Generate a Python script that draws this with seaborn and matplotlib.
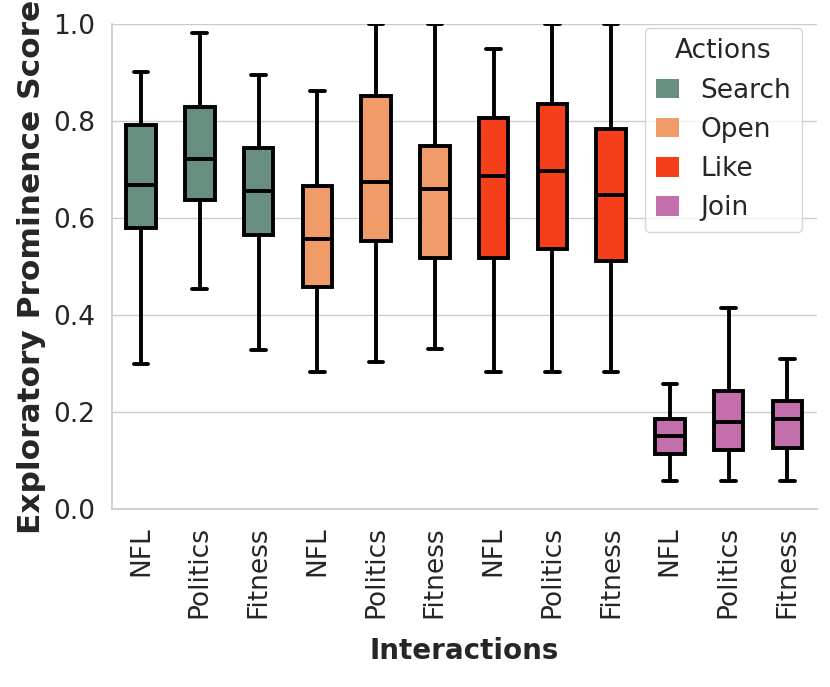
"""Box plot of exploratory prominence scores per action and topic."""
import numpy as np
import pandas as pd
import seaborn as sns
import matplotlib.pyplot as plt

actions = ["Search", "Open", "Like", "Join"]
topics = ["NFL", "Politics", "Fitness"]
palette = ["#678E7E", "#EF9C69", "#F43F1A", "#C36FAC"]

# five-number summaries: min, q1, median, q3, max
search_stats = [
    [0.299, 0.579, 0.669, 0.792, 0.902],
    [0.454, 0.638, 0.722, 0.829, 0.981],
    [0.328, 0.566, 0.655, 0.744, 0.894],
]
open_stats = [
    [0.282, 0.459, 0.557, 0.667, 0.862],
    [0.304, 0.552, 0.675, 0.851, 1.000],
    [0.330, 0.517, 0.661, 0.748, 1.000],
]
like_stats = [
    [0.282, 0.517, 0.686, 0.807, 0.948],
    [0.282, 0.536, 0.698, 0.836, 1.000],
    [0.282, 0.512, 0.648, 0.784, 1.000],
]
join_stats = [
    [0.058, 0.114, 0.150, 0.186, 0.258],
    [0.058, 0.122, 0.179, 0.244, 0.414],
    [0.058, 0.127, 0.186, 0.223, 0.310],
]

rows = []
for action, stats in zip(actions, [search_stats, open_stats, like_stats, join_stats]):
    for topic, five in zip(topics, stats):
        for v in five:
            rows.append({"Interactions": action + " " + topic, "Actions": action,
                         "score": v})
df = pd.DataFrame(rows)

sns.set_theme(style="whitegrid")
plt.rcParams["font.family"] = ["DejaVu Sans"]

fig = plt.figure(figsize=(8.3, 6.87), dpi=100)
ax = fig.add_axes([0.1346, 0.2587, 0.8494, 0.7063])

lw = 2.8
line_kws = dict(color="black", linewidth=lw)
sns.boxplot(
    data=df, x="Interactions", y="score", hue="Actions", palette=palette,
    saturation=1, dodge=False, width=0.5, whis=(0, 100), linewidth=lw,
    linecolor="black",
    boxprops=dict(edgecolor="black", linewidth=lw),
    medianprops=line_kws, whiskerprops=line_kws,
    capprops=dict(color="black", linewidth=lw, solid_capstyle="round"),
    ax=ax,
)

ax.set_ylim(0, 1.0)
ax.set_xlim(-0.5, 11.5)
ax.set_yticks(np.arange(0, 1.01, 0.2))
ax.set_yticklabels(["0.0", "0.2", "0.4", "0.6", "0.8", "1.0"], fontsize=19)
ax.set_xticks(range(12))
ax.set_xticklabels(topics * 4, rotation=90, fontsize=19)
ax.tick_params(axis="both", length=0, pad=12)
ax.set_xlabel("Interactions", fontsize=20, fontweight="bold", labelpad=14)
ax.set_ylabel("Exploratory Prominence Score", fontsize=22.5, fontweight="bold",
              labelpad=5)
sns.despine(ax=ax)

leg = ax.legend(title="Actions", loc="upper right", fontsize=19,
                title_fontsize=19, frameon=True, borderaxespad=0,
                bbox_to_anchor=(0.979, 0.992), handlelength=0.9,
                handleheight=0.75, handletextpad=0.8)
for h in leg.legend_handles:
    h.set_linewidth(0)
    h.set_edgecolor("none")

fig.savefig("out.png", dpi=100)
